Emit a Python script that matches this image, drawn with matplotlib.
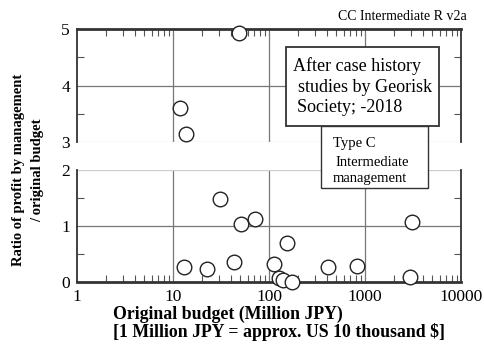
import matplotlib

matplotlib.use("Agg")

import matplotlib.pyplot as plt
from matplotlib.patches import Rectangle
from matplotlib.ticker import FixedLocator, LogLocator, NullFormatter

plt.rcParams["font.family"] = ["Liberation Serif", "DejaVu Serif"]

# Original budget (million JPY) and profit ratio for each case
budget = [49, 11.8, 13.6, 13, 22.6, 30.8, 43, 51, 71, 154, 112, 127, 140, 173, 410, 820, 3100, 2950]
ratio = [4.93, 3.6, 3.14, 0.27, 0.23, 1.48, 0.36, 1.04, 1.12, 0.70, 0.32, 0.08, 0.04, 0.0, 0.27, 0.29, 1.07, 0.09]

upper_ticks = [3, 4, 5]
lower_ticks = [0, 1, 2]
x_ticks = [1, 10, 100, 1000, 10000]
x_tick_labels = ["1", "10", "100", "1000", "10000"]

W, H = 485, 347
fig = plt.figure(figsize=(W / 100, H / 100), dpi=100)


def px_axes(x0, y0, x1, y1):
    return fig.add_axes([x0 / W, 1 - y1 / H, (x1 - x0) / W, (y1 - y0) / H])


ax_top = px_axes(77, 29, 461, 142)
ax_bot = px_axes(77, 170, 461, 282)

for ax, lo, hi, ticks in [(ax_top, 3, 5, upper_ticks), (ax_bot, 0, 2, lower_ticks)]:
    ax.set_xscale("log")
    ax.set_xlim(1, 10000)
    ax.set_ylim(lo, hi)
    ax.set_yticks(ticks)
    ax.yaxis.set_minor_locator(FixedLocator([lo + 0.5, lo + 1.5]))
    ax.xaxis.set_minor_locator(LogLocator(base=10, subs=range(2, 10)))
    ax.xaxis.set_minor_formatter(NullFormatter())
    ax.tick_params(which="both", direction="in", labelsize=12.5, pad=5)
    ax.tick_params(which="major", length=0)
    ax.tick_params(which="minor", length=5, width=0.8, color="#555555")
    ax.tick_params(axis="y", which="minor", left=True, right=True)
    for s in ("left", "right"):
        ax.spines[s].set_linewidth(1.3)
        ax.spines[s].set_color("#333333")
    for xv in [10, 100, 1000]:
        ax.axvline(xv, color="#777777", lw=0.9, zorder=1)
    ax.axhline(lo + 1, color="#777777", lw=0.9, zorder=1)

# upper panel: thick top edge, light line where the axis is broken
ax_top.spines["bottom"].set_visible(False)
ax_top.spines["top"].set_linewidth(2.0)
ax_top.spines["top"].set_color("#333333")
ax_top.axhline(3, color="#cccccc", lw=0.9, zorder=1)
ax_top.tick_params(axis="x", which="both", bottom=False, top=True, labelbottom=False)

ax_bot.spines["top"].set_visible(False)
ax_bot.spines["bottom"].set_linewidth(2.0)
ax_bot.spines["bottom"].set_color("#333333")
ax_bot.axhline(2, color="#cccccc", lw=0.9, zorder=1)
ax_bot.tick_params(axis="x", which="both", bottom=True, top=False)
ax_bot.set_xticks(x_ticks)
ax_bot.set_xticklabels(x_tick_labels)

hi_x = [b for b, r in zip(budget, ratio) if r >= 2.5]
hi_y = [r for r in ratio if r >= 2.5]
lo_x = [b for b, r in zip(budget, ratio) if r < 2.5]
lo_y = [r for r in ratio if r < 2.5]
marker_kw = dict(ls="none", marker="o", ms=10.5, mfc="white", mec="#222222", mew=1.0,
                 clip_on=False, zorder=5)
ax_top.plot(hi_x, hi_y, **marker_kw)
ax_bot.plot(lo_x, lo_y, **marker_kw)

# axis titles
fig.text(113 / W, 1 - 314 / H, "Original budget (Million JPY)", fontsize=12.8,
         fontweight="bold", va="center", ha="left")
fig.text(113 / W, 1 - 332 / H, "[1 Million JPY = approx. US 10 thousand $]", fontsize=12.8,
         fontweight="bold", va="center", ha="left")
fig.text(28 / W, 1 - 170 / H, "Ratio of profit by management\n/ original budget",
         fontsize=10.5, fontweight="bold", rotation=90, va="center", ha="center",
         multialignment="center", linespacing=1.65)

fig.text(467 / W, 1 - 17 / H, "CC Intermediate R v2a", fontsize=10, ha="right", va="center")

# annotation boxes
fig.patches.append(Rectangle((321 / W, 1 - 188 / H), (428 - 321) / W, (188 - 126) / H,
                             transform=fig.transFigure, fc="white", ec="#333333",
                             lw=1.0, zorder=10))
fig.patches.append(Rectangle((286 / W, 1 - 126 / H), (439 - 286) / W, (126 - 47) / H,
                             transform=fig.transFigure, fc="white", ec="#333333",
                             lw=1.3, zorder=10))
fig.text(293 / W, 1 - 66 / H, "After case history", fontsize=13, va="center", ha="left", zorder=11)
fig.text(298 / W, 1 - 87 / H, "studies by Georisk", fontsize=13, va="center", ha="left", zorder=11)
fig.text(297 / W, 1 - 108 / H, "Society; -2018", fontsize=13, va="center", ha="left", zorder=11)
fig.text(333 / W, 1 - 144 / H, "Type C", fontsize=10.5, va="center", ha="left", zorder=11)
fig.text(335 / W, 1 - 162 / H, "Intermediate", fontsize=10.5, va="center", ha="left", zorder=11)
fig.text(333 / W, 1 - 179 / H, "management", fontsize=10.5, va="center", ha="left", zorder=11)

fig.savefig("out.png", dpi=100)
